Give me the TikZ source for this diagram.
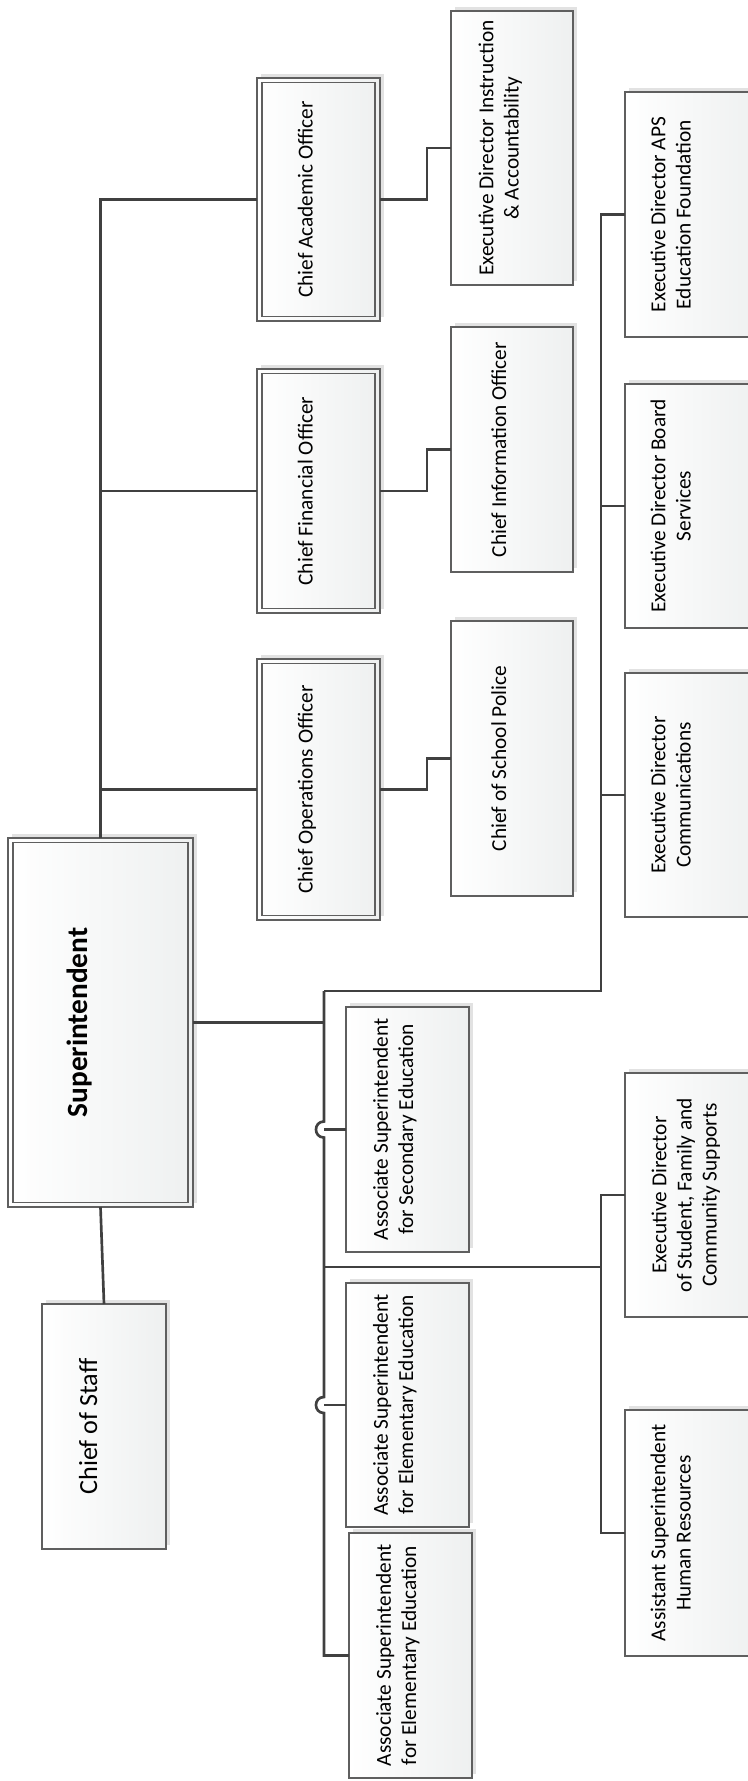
\documentclass[tikz,border=0pt]{standalone}
\usepackage{graphicx}
\usepackage{fontspec}
\setmainfont{Carlito}
\usetikzlibrary{shadows,calc}
\definecolor{linec}{HTML}{404040}
\definecolor{boxc}{HTML}{5F5F5F}
\definecolor{fillr}{HTML}{EEF0F0}
\definecolor{shad}{HTML}{E2E2E2}
\newlength\pxu \setlength\pxu{1.5pt}
\newcommand\rt[2]{\rotatebox{90}{\begin{tabular}{@{}c@{}}#2\end{tabular}}\hspace*{#1\pxu}}
\begin{document}
\begin{tikzpicture}[x=0.75pt,y=-0.75pt,
  box/.style={draw=boxc,line width=0.9pt,left color=white,right color=fillr,inner sep=0pt,outer sep=0pt,
    general shadow={fill=shad,shadow xshift=3pt,shadow yshift=3pt},font=\fontsize{16}{18.8}\selectfont},
  sz/.style 2 args={minimum width=#1*0.75pt,minimum height=#2*0.75pt},
  conn/.style={draw=linec,line width=2pt},
  innerline/.style={draw=boxc,line width=0.9pt}]
\useasboundingbox (0,0) rectangle (747,1781);

\node[box,sz={185}{369},font=\fontsize{22}{26}\selectfont\bfseries] (sup) at (100.5,1022.5) {\rt{19.5}{Superintendent}};
\node[box,sz={124}{245},font=\fontsize{19.6}{23}\selectfont] (cos) at (104,1426.5) {\rt{13}{Chief of Staff}};
\node[box,sz={123}{243}] (cao) at (318.5,199.5) {\rt{11}{Chief Academic Officer}};
\node[box,sz={123}{244}] (cfo) at (318.5,491) {\rt{11}{Chief Financial Officer}};
\node[box,sz={123}{261}] (coo) at (318.5,789.5) {\rt{11}{Chief Operations Officer}};
\node[box,sz={122}{274}] (edi) at (512,148) {\rt{11}{Executive Director Instruction\\\& Accountability}};
\node[box,sz={122}{245}] (cio) at (512,449.5) {\rt{11}{Chief Information Officer}};
\node[box,sz={122}{275}] (csp) at (512,758.5) {\rt{11}{Chief of School Police}};
\node[box,sz={135}{245}] (aps) at (692.5,214.5) {\rt{19.5}{Executive Director APS\\Education Foundation}};
\node[box,sz={135}{244}] (edb) at (692.5,506) {\rt{19.5}{Executive Director Board\\Services}};
\node[box,sz={135}{244}] (edc) at (692.5,795) {\rt{19.5}{Executive Director\\Communications}};
\node[box,sz={123}{245}] (ase) at (407.5,1129.5) {\rt{12}{Associate Superintendent\\for Secondary Education}};
\node[box,sz={123}{244}] (aeu) at (407.5,1405) {\rt{12}{Associate Superintendent\\for Elementary Education}};
\node[box,sz={123}{245}] (ael) at (410.5,1655.5) {\rt{12}{Associate Superintendent\\for Elementary Education}};
\node[box,sz={135}{244}] (esf) at (692.5,1195) {\rt{6}{Executive Director\\of Student, Family and\\Community Supports}};
\node[box,sz={135}{246}] (ahr) at (692.5,1533) {\rt{19.5}{Assistant Superintendent\\Human Resources}};

\foreach \n in {sup,cao,cfo,coo}
  \draw[innerline] ($(\n.north west)+(5,4.5)$) rectangle ($(\n.south east)+(-5,-4.5)$);

\coordinate (tr) at (324,991);
\coordinate (bj) at (324,1267);

% upper branches
\draw[conn] (sup.north) |- (cao.west);
\draw[conn] (sup.north) |- (cfo.west);
\draw[conn] (sup.north) |- (coo.west);
\draw[conn] (cao.east) -- ++(47,0) |- (edi.west);
\draw[conn] (cfo.east) -- ++(47,0) |- (cio.west);
\draw[conn] (coo.east) -- ++(47,0) |- (csp.west);

% chief of staff
\draw[conn] (sup.south) -- (cos.north);

% right trunk
\draw[conn] (sup.east) -- (sup.east -| tr);
\draw[conn] (aps.west) -- ++(-24,0) |- (tr);
\draw[conn] (edb.west) -- ++(-24,0);
\draw[conn] (edc.west) -- ++(-24,0);
\draw[conn] (tr) -- ($(tr |- ase.west)+(0,-8)$) .. controls +(-10.7,0) and +(-10.7,0) .. ++(0,16)
  -- ($(tr |- aeu.west)+(0,-8)$) .. controls +(-10.7,0) and +(-10.7,0) .. ++(0,16)
  -- (tr |- ael.west) -- (ael.west);
\draw[conn] (tr |- ase.west) -- (ase.west);
\draw[conn] (tr |- aeu.west) -- (aeu.west);
\draw[conn] (bj) -- ++(277,0);
\draw[conn] (esf.west) -- ++(-24,0) |- (ahr.west);
\end{tikzpicture}
\end{document}
